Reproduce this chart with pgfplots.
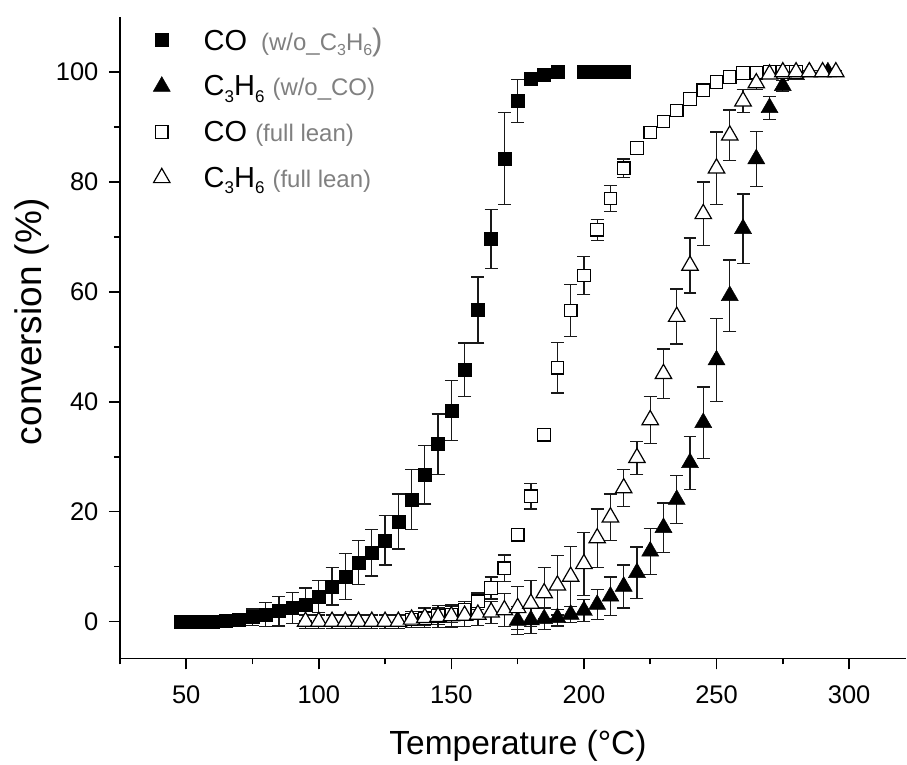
\documentclass[border=0pt]{standalone}
\usepackage{pgfplots}
\pgfplotsset{compat=1.18}
\usepackage{pgfplotstable}
\usepackage{fontspec}
\setmainfont{Liberation Sans}
\definecolor{lgray}{RGB}{128,128,128}
\newcommand{\msub}[1]{\raisebox{-0.22em}{\fontsize{17bp}{17bp}\selectfont #1}}
\newcommand{\gsub}[1]{\raisebox{-0.22em}{\fontsize{16bp}{16bp}\selectfont #1}}
\newcommand{\gtx}{\color{lgray}\fontsize{24bp}{28bp}\selectfont}

\pgfplotstableread{
x y e
48 0 0.3
52 0 0.3
56 0 0.3
60 0 0.3
65 0.2 0.3
70 0.4 0.8
75 0.8 1.5
80 1.3 2.2
85 1.9 2.7
90 2.5 2.8
95 3.1 3.0
100 4.6 2.9
105 6.4 3.4
110 8.2 4.2
115 10.7 4.0
120 12.5 4.2
125 14.8 4.5
130 18.2 5.0
135 22.2 5.5
140 26.7 5.3
145 32.3 5.5
150 38.4 5.5
155 45.8 4.9
160 56.7 6.0
165 69.6 5.4
170 84.3 8.4
175 94.7 3.9
180 98.7 1.0
185 99.5 0.5
190 100 0.2
200 100 0.2
205 100 0.2
210 100 0.2
215 100 0.2
}\coA

\pgfplotstableread{
x y e
175 0.2 2.5
180 0.3 2.5
185 0.5 2.0
190 0.7 1.5
195 1.3 1.5
200 2.0 2.0
205 3.1 2.7
210 4.6 3.5
215 6.4 3.9
220 8.9 4.7
225 12.8 4.2
230 17.1 4.5
235 22.2 4.4
240 28.9 4.8
245 36.2 6.5
250 47.6 7.5
255 59.3 6.5
260 71.5 6.3
265 84.2 5.0
270 93.5 2.1
275 97.5 1.0
280 99.5 0.5
285 100 0.3
292 100 0.3
}\hcA

\pgfplotstableread{
x y e
135 0.4 1.0
140 0.6 1.2
145 1.0 1.5
150 1.3 1.5
155 2.2 1.5
160 3.7 1.5
165 6.1 2.0
170 9.7 2.4
175 15.8 1.0
180 22.8 2.3
185 34.0 0.8
190 46.2 4.6
195 56.6 4.7
200 63.0 3.5
205 71.3 1.9
210 77.0 2.4
215 82.5 1.7
220 86.2 1.0
225 89.0 1.0
230 91.0 1.0
235 93.0 1.0
240 95.1 1.0
245 96.7 1.0
250 98.2 1.0
255 99.1 1.0
260 99.8 0.8
265 99.9 0.5
270 100 0.5
275 100 0.5
280 100 0.5
}\coB

\pgfplotstableread{
x y e
95 0 1.2
100 0 1.2
105 0 1.2
110 0 1.2
115 0 1.2
120 0 1.2
125 0 1.2
130 0 1.2
135 0.4 1.5
140 0.7 1.8
145 0.9 2.0
150 1.0 2.0
155 1.1 2.0
160 1.3 2.0
165 1.7 2.0
170 2.1 3.0
175 2.5 3.9
180 3.3 4.2
185 5.2 4.6
190 6.6 5.4
195 8.2 5.5
200 10.5 5.7
205 15.2 5.3
210 19.0 4.2
215 24.3 3.4
220 29.8 3.0
225 36.7 4.3
230 45.1 4.5
235 55.5 5.0
240 64.8 5.0
245 74.2 5.8
250 82.5 6.6
255 88.5 4.6
260 94.7 2.1
265 98.0 1.2
270 99.6 0.5
275 100 0.3
280 100 0.3
285 100 0.3
290 100 0.3
295 100 0.3
}\hcB

\pgfplotsset{
  ebar/.style={forget plot, only marks, mark=none,
    error bars/.cd, y dir=both, y explicit,
    error bar style={draw=black!90, line width=1.3bp, solid},
    error mark options={draw=black!90, rotate=90, mark size=6.5bp, line width=1.3bp}},
}

\begin{document}
\begin{tikzpicture}
\begin{axis}[
  x=2.654bp, y=5.5bp,
  xmin=25, xmax=321.5, ymin=-6.7, ymax=110,
  axis x line*=bottom, axis y line*=left,
  axis line style={-, line width=1.8bp},
  xtick align=outside, ytick align=outside,
  major tick length=11bp, minor tick length=6bp,
  tick style={draw=black, line width=1.6bp},
  xtick={50,100,...,300}, ytick={0,20,...,100},
  minor xtick={25,50,...,325}, minor y tick num=1,
  extra x ticks={50,100,...,300}, extra x tick labels={},
  extra x tick style={major tick length=11bp, xtick align=outside, tick style={draw=black, line width=1.6bp}},
  /pgf/number format/assume math mode=true,
  tick label style={font=\fontsize{25.5bp}{30bp}\selectfont},
  x tick label style={yshift=-13bp},
  y tick label style={xshift=-7bp},
  xlabel={Temperature (°C)}, ylabel={conversion (\%)},
  every axis x label/.style={at={(axis description cs:0.5,0)}, anchor=base, yshift=-96bp, xshift=5bp, font=\fontsize{33.5bp}{40bp}\selectfont},
  every axis y label/.style={at={(axis description cs:-0.0991,0.525)}, anchor=base, rotate=90, font=\fontsize{37bp}{44bp}\selectfont},
  clip=false,
  legend cell align=left,
  legend style={draw=none, fill=none, at={(axis description cs:0.02,0.99)}, anchor=north west,
    xshift=3bp, font=\fontsize{29bp}{35bp}\selectfont, row sep=20bp},
  legend image code/.code={\path[draw=none,fill=none] (-20bp,0bp) -- (40bp,0bp); \draw[#1] plot coordinates {(0bp,0bp)};},
]
% CO w/o C3H6
\addplot[ebar] table[x=x,y=y,y error=e]{\coA};
\addplot[only marks, mark=square*, mark size=6.5bp, mark options={draw=black, fill=black, line width=0.5bp}] table[x=x,y=y]{\coA};
\addlegendentry{CO\hspace{14bp}{\gtx (w/o\_C\gsub{3}H\gsub{6}{\fontsize{31bp}{31bp}\selectfont )}}}
% C3H6 w/o CO
\addplot[ebar] table[x=x,y=y,y error=e]{\hcA};
\addplot[only marks, mark=triangle*, mark size=9.8bp, mark options={draw=black, fill=black, line width=0.5bp}] table[x=x,y=y]{\hcA};
\addlegendentry{C\msub{3}H\msub{6} {\gtx (w/o\_CO)}}
% CO full lean
\addplot[ebar] table[x=x,y=y,y error=e]{\coB};
\addplot[only marks, mark=square*, mark size=6.3bp, mark options={draw=black, fill=white, line width=1.2bp}] table[x=x,y=y]{\coB};
\addlegendentry{CO {\gtx (full lean)}}
% C3H6 full lean
\addplot[ebar] table[x=x,y=y,y error=e]{\hcB};
\addplot[only marks, mark=triangle*, mark size=9.5bp, mark options={draw=black, fill=white, line width=1.2bp}] table[x=x,y=y]{\hcB};
\addlegendentry{C\msub{3}H\msub{6} {\gtx (full lean)}}
\end{axis}
\path (-120bp,-101bp) rectangle (787bp,659bp);
\end{tikzpicture}
\end{document}
